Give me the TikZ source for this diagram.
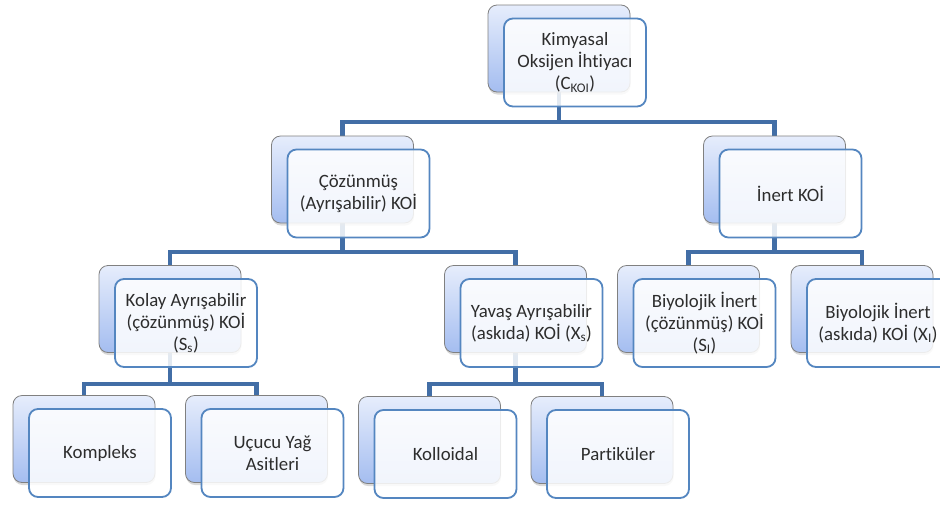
\documentclass[tikz,border=0pt]{standalone}
\usepackage{fontspec}
\setmainfont{Carlito}[RawFeature={-liga}]
\usetikzlibrary{shadows}
\definecolor{conncol}{RGB}{66,110,166}
\definecolor{frontcol}{RGB}{84,134,192}
\definecolor{backtop}{RGB}{230,237,252}
\definecolor{backbot}{RGB}{164,189,240}
\definecolor{backline}{RGB}{128,128,128}
\definecolor{txtcol}{RGB}{45,45,45}
\tikzset{
  backbox/.style={rectangle, rounded corners=9pt, minimum width=142pt, minimum height=87pt,
    draw=backline, line width=0.8pt, top color=backtop, bottom color=backbot,
    drop shadow={shadow xshift=0.5pt, shadow yshift=-2.5pt, opacity=0.3}},
  frontbox/.style={rectangle, rounded corners=9pt, minimum width=142pt, minimum height=88pt,
    draw=frontcol, line width=1.8pt, fill=white, fill opacity=0.85, text opacity=1,
    text=txtcol, align=center, font=\fontsize{18.8}{22}\selectfont, inner sep=2pt},
  conn/.style={draw=conncol, line width=4.5pt}
}
\newcommand\kbox[4]{%
  \node[backbox] (#1b) at (#2,#3) {};
  \node[frontbox] (#1) at (#2+16,#3+14) {#4};}
\begin{document}
\begin{tikzpicture}[x=1pt,y=-1pt]
\useasboundingbox (0,0) rectangle (940,504);
\coordinate (j1) at (0,122);
\coordinate (j2) at (0,252);
\coordinate (j3) at (0,384);
% back-box centres (for connectors)
\coordinate (topc) at (559,48.5);
\coordinate (solc) at (342.5,179.5);
\coordinate (inec) at (774.5,179.5);
\coordinate (kolc) at (170,309);
\coordinate (yavc) at (515.5,309);
\coordinate (bisc) at (688.5,309);
\coordinate (bixc) at (862,309);
\coordinate (komc) at (84,439);
\coordinate (ucuc) at (256.5,439);
\coordinate (kllc) at (429.5,440);
\coordinate (parc) at (602,440);
% connectors
\draw[conn] (topc) -- (topc |- j1);
\draw[conn] (solc) |- (inec |- j1) -- (inec);
\draw[conn] (solc) -- (solc |- j2);
\draw[conn] (kolc) |- (yavc |- j2) -- (yavc);
\draw[conn] (inec) -- (inec |- j2);
\draw[conn] (bisc) |- (bixc |- j2) -- (bixc);
\draw[conn] (kolc) -- (kolc |- j3);
\draw[conn] (komc) |- (ucuc |- j3) -- (ucuc);
\draw[conn] (yavc) -- (yavc |- j3);
\draw[conn] (kllc) |- (parc |- j3) -- (parc);
% boxes
\kbox{top}{559}{48.5}{Kimyasal\\Oksijen İhtiyacı\\(C\textsubscript{KOI})}
\kbox{sol}{342.5}{179.5}{Çözünmüş\\(Ayrışabilir) KOİ}
\kbox{ine}{774.5}{179.5}{İnert KOİ}
\kbox{kol}{170}{309}{Kolay Ayrışabilir\\(çözünmüş) KOİ\\(S\textsubscript{s})}
\kbox{yav}{515.5}{309}{Yavaş Ayrışabilir\\(askıda) KOİ (X\textsubscript{s})}
\kbox{bis}{688.5}{309}{Biyolojik İnert\\(çözünmüş) KOİ\\(S\textsubscript{I})}
\kbox{bix}{862}{309}{Biyolojik İnert\\(askıda) KOİ (X\textsubscript{I})}
\kbox{kom}{84}{439}{Kompleks}
\kbox{ucu}{256.5}{439}{Uçucu Yağ\\Asitleri}
\kbox{kll}{429.5}{440}{Kolloidal}
\kbox{par}{602}{440}{Partiküler}
\end{tikzpicture}
\end{document}
